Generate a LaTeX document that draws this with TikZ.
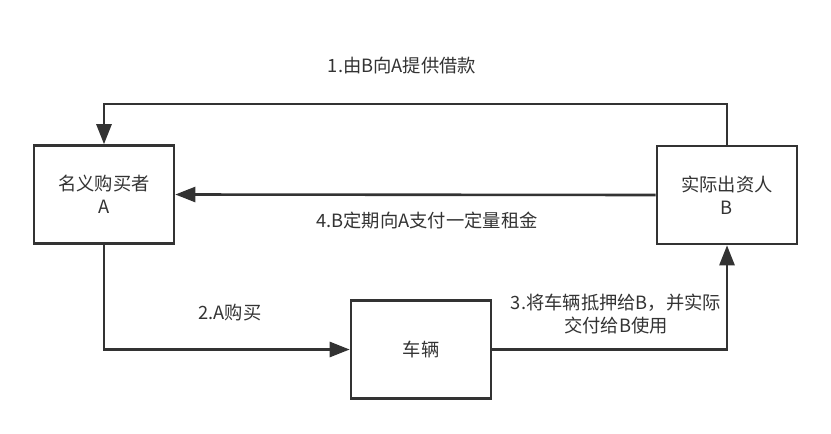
\documentclass[tikz,border=0pt]{standalone}
\usepackage{fontspec}
\setmainfont{Noto Sans CJK SC}
\usepackage{xcolor}
\definecolor{clLine}{HTML}{333333}
\definecolor{clText}{HTML}{333333}
\usetikzlibrary{arrows.meta,positioning}
\tikzset{
  party/.style={rectangle, draw=clLine, line width=2.6pt, align=center,
                minimum width=140pt, minimum height=98pt, inner sep=2pt,
                text=clText, font=\fontsize{18.3}{23}\selectfont},
  flow/.style={-{Triangle[length=20pt,width=15pt]}, line width=2.6pt, draw=clLine},
  flowlabel/.style={align=center, inner sep=1pt, text=clText,
                    font=\fontsize{18.3}{23}\selectfont},
}
\begin{document}
\begin{tikzpicture}[x=1pt, y=-1pt]
  \useasboundingbox (0,0) rectangle (831,434);
  \node[party] (buyer) at (104,194.5) {名义购买者\\A};
  \node[party] (lender) at (727,195) {实际出资人\\B};
  \node[party] (car) at (421,349.5) {车辆};
  \coordinate (top) at (415,104);
  % loan, rent, purchase, pledge
  \draw[flow] (lender.north) |- (top) -| (buyer.north);
  \node[flowlabel] (lbl1) at (402,66) {1.由B向A提供借款};
  \draw[flow] (lender.west) -- (buyer.east);
  \node[flowlabel] (lbl4) at (427,220) {4.B定期向A支付一定量租金};
  \draw[flow] (buyer.south) |- (car.west);
  \node[flowlabel] (lbl2) at (230,313) {2.A购买};
  \draw[flow] (car.east) -| (lender.south);
  \node[flowlabel] (lbl3) at (616,314) {3.将车辆抵押给B，并实际\\交付给B使用};
\end{tikzpicture}
\end{document}
